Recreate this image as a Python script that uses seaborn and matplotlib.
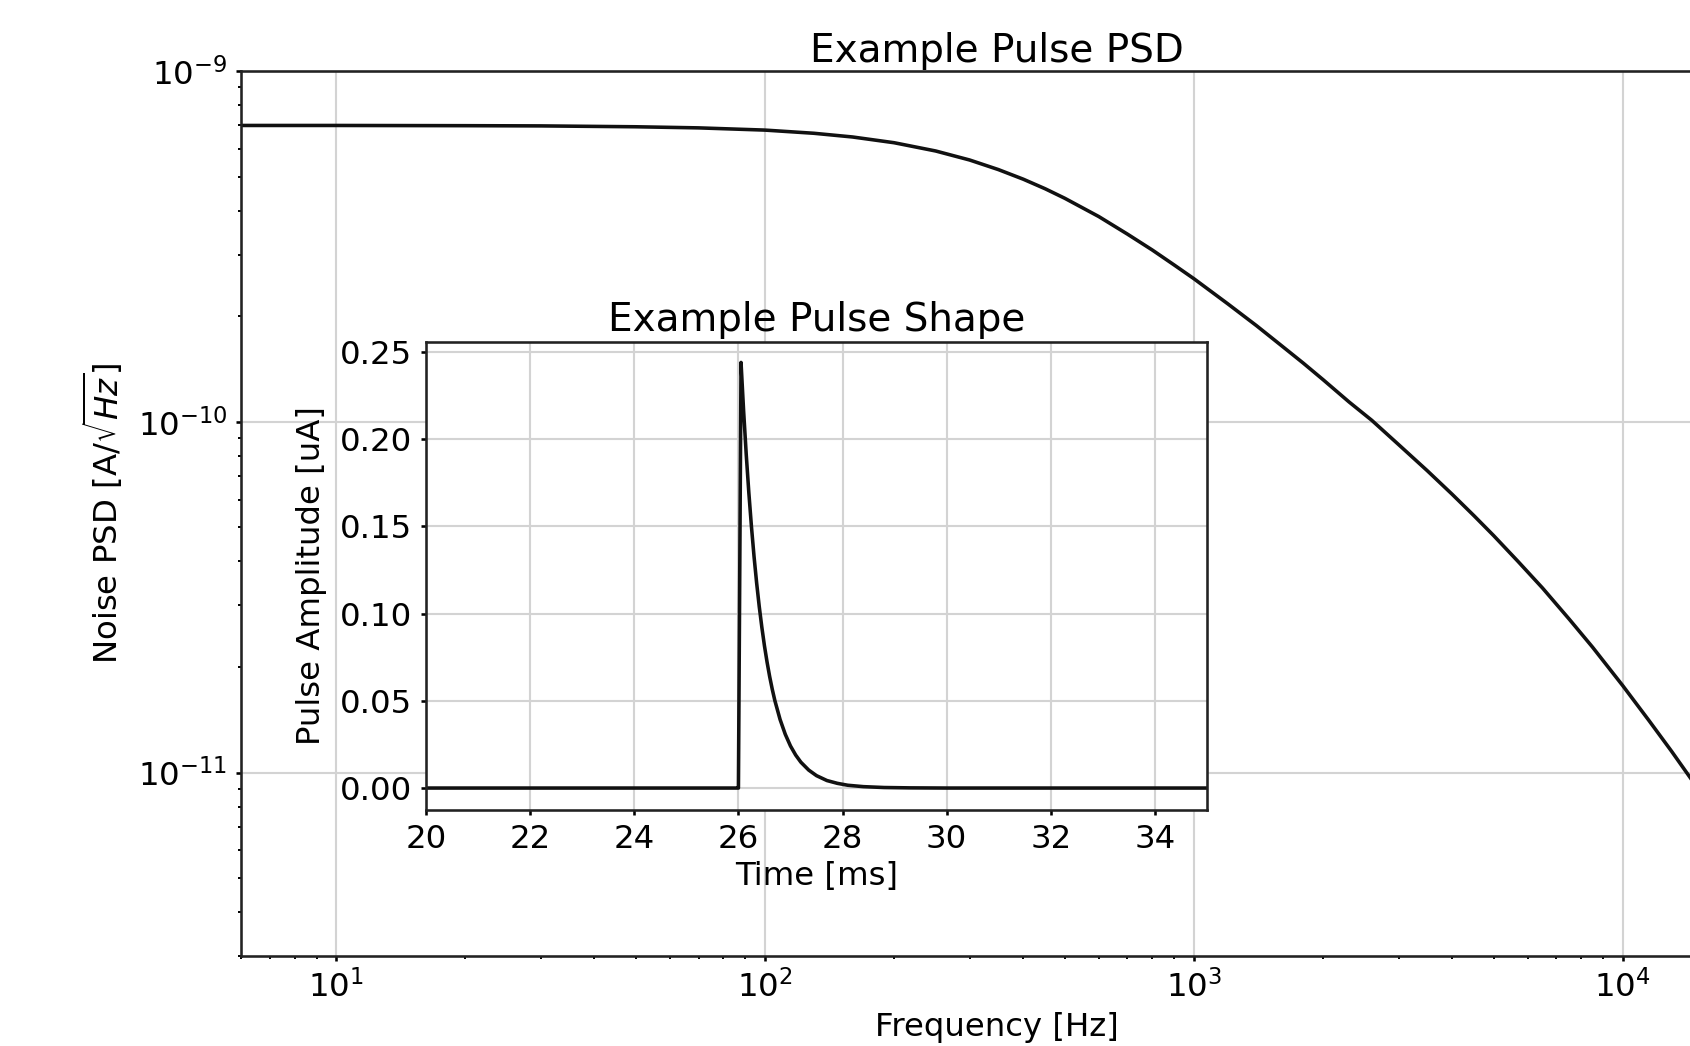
import numpy as np
import pandas as pd
import seaborn as sns
import matplotlib
matplotlib.use("Agg")
import matplotlib.pyplot as plt

# PSD curve
freq_hz = [6, 10, 20, 30, 50, 70, 100, 130, 160, 200, 250, 300, 350, 400, 450, 500,
           600, 700, 800, 900, 1000, 1200, 1400, 1600, 1800, 2000, 2300, 2600, 3000,
           3500, 4000, 4500, 5000, 5700, 6500, 7500, 8500, 10000, 11500, 13000,
           14500, 16500, 18500, 20000]
psd = [7.0e-10, 7.0e-10, 6.99e-10, 6.98e-10, 6.94e-10, 6.89e-10, 6.79e-10, 6.65e-10,
       6.49e-10, 6.25e-10, 5.92e-10, 5.58e-10, 5.24e-10, 4.92e-10, 4.62e-10, 4.34e-10,
       3.85e-10, 3.43e-10, 3.09e-10, 2.80e-10, 2.56e-10, 2.17e-10, 1.88e-10, 1.65e-10,
       1.47e-10, 1.32e-10, 1.14e-10, 1.01e-10, 8.62e-11, 7.26e-11, 6.22e-11, 5.40e-11,
       4.74e-11, 4.00e-11, 3.36e-11, 2.74e-11, 2.28e-11, 1.77e-11, 1.41e-11, 1.15e-11,
       9.52e-12, 7.57e-12, 6.15e-12, 5.26e-12]

# pulse shape
time_ms = [20.0, 25.999, 26.0, 26.05, 26.10, 26.15, 26.20, 26.25, 26.30, 26.35, 26.40,
           26.45, 26.50, 26.55, 26.60, 26.65, 26.70, 26.80, 26.90, 27.00, 27.10, 27.20,
           27.35, 27.50, 27.70, 27.90, 28.10, 28.40, 28.80, 29.30, 30.00, 35.0]
amp_ua = [0.0, 0.0, 0.0, 0.244, 0.216, 0.1912, 0.1693, 0.1499, 0.1327, 0.1175, 0.104,
          0.0921, 0.0815, 0.0722, 0.0639, 0.0566, 0.0501, 0.0393, 0.0308, 0.0241,
          0.0189, 0.0148, 0.0103, 0.0071, 0.0043, 0.0027, 0.0016, 0.0008, 0.0003,
          0.0001, 0.0, 0.0]

psd_df = pd.DataFrame({"f": freq_hz, "psd": psd})
pulse_df = pd.DataFrame({"t": time_ms, "a": amp_ua})

plt.rcParams.update({
    "xtick.major.size": 1.6, "ytick.major.size": 1.6,
    "xtick.minor.size": 0.9, "ytick.minor.size": 0.9,
    "xtick.major.pad": 2.6, "ytick.major.pad": 2.6,
    "xtick.minor.pad": 2.6, "ytick.minor.pad": 2.6,
    "axes.edgecolor": "#222222",
})

dpi = 233
fig = plt.figure(figsize=(1690 / dpi, 1046 / dpi), dpi=dpi)

ax = fig.add_axes([0.1426, 0.0860, 0.894, 0.846])
ax.set_xscale("log")
ax.set_yscale("log")
sns.lineplot(data=psd_df, x="f", y="psd", ax=ax, color="#111111", linewidth=1.1,
             estimator=None, sort=False)
ax.set_xlim(6.0, 2.0e4)
ax.set_ylim(3.0e-12, 1e-9)
ax.grid(True, which="major", color="#d3d3d3", linewidth=0.65)
ax.set_xlabel("Frequency [Hz]", labelpad=2.5)
ax.set_ylabel(r"Noise PSD [A/$\sqrt{Hz}$]")
ax.set_title("Example Pulse PSD", fontsize=12, pad=2.8)

ins = fig.add_axes([0.2521, 0.2256, 0.4621, 0.4474])
sns.lineplot(data=pulse_df, x="t", y="a", ax=ins, color="#111111", linewidth=1.1,
             estimator=None, sort=False)
ins.set_xlim(20, 35)
ins.set_ylim(-0.0126, 0.2557)
ins.set_xticks([20, 22, 24, 26, 28, 30, 32, 34])
ins.set_yticks([0.0, 0.05, 0.10, 0.15, 0.20, 0.25])
ins.grid(True, color="#d3d3d3", linewidth=0.65)
ins.set_xlabel("Time [ms]", labelpad=2.0)
ins.set_ylabel("Pulse Amplitude [uA]")
ins.set_title("Example Pulse Shape", fontsize=12, pad=3.3)

fig.savefig("out.png", dpi=dpi)
